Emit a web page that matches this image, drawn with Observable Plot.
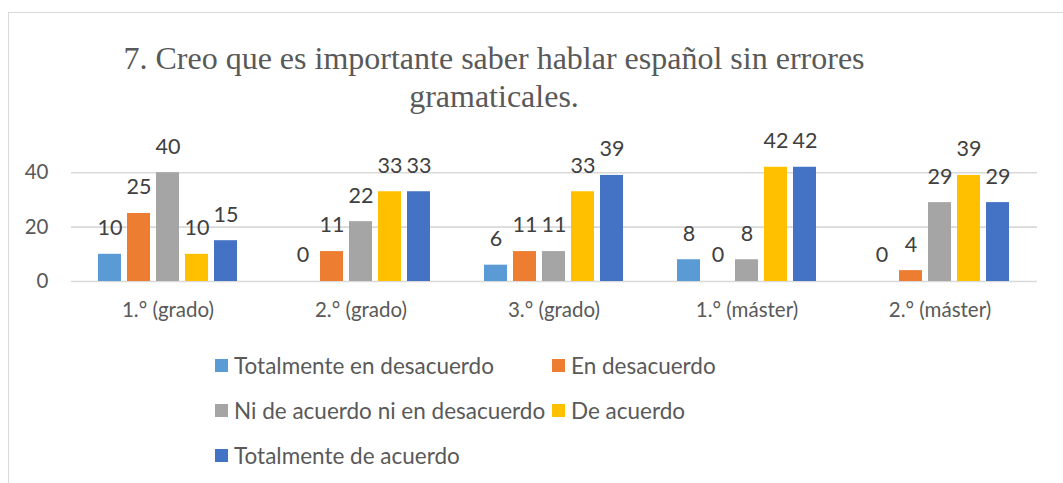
<!DOCTYPE html>
<html>
<head>
<meta charset="utf-8">
<script src="https://cdn.jsdelivr.net/npm/d3@7"></script>
<script src="https://cdn.jsdelivr.net/npm/@observablehq/plot@0.6"></script>
<style>
  html, body { margin: 0; padding: 0; background: #fff; }
  #wrap { position: relative; width: 1063px; height: 483px; overflow: hidden; background: #fff; }
  #frame { position: absolute; left: 8px; top: 12px; width: 1100px; height: 520px; border: 1px solid #d9d9d9; box-sizing: border-box; }
  #title { position: absolute; left: 0; top: 39px; width: 988px; text-align: center; font-family: "Liberation Serif", serif; font-size: 32px; line-height: 38px; color: #595959; }
  .layer { position: absolute; left: 0; top: 120px; }
  .leg { position: absolute; display: flex; align-items: center; font-family: Lato, sans-serif; font-size: 22.5px; color: #595959; height: 30px; white-space: nowrap; }
  .sw { width: 13px; height: 13px; margin-right: 6px; }
</style>
</head>
<body>
<div id="wrap">
  <div id="frame"></div>
  <div id="title">7. Creo que es importante saber hablar español sin errores<br>gramaticales.</div>
  <div id="bg" class="layer"></div>
  <div id="fg" class="layer"></div>
  <div id="legend"></div>
</div>
<script>
const categories = ["1.° (grado)", "2.° (grado)", "3.° (grado)", "1.° (máster)", "2.° (máster)"];
const series = ["Totalmente en desacuerdo", "En desacuerdo", "Ni de acuerdo ni en desacuerdo", "De acuerdo", "Totalmente de acuerdo"];
const colors = ["#5B9BD5", "#ED7D31", "#A5A5A5", "#FFC000", "#4472C4"];
const totalmenteEnDesacuerdo = [10, 0, 6, 8, 0];
const enDesacuerdo = [25, 11, 11, 0, 4];
const niDeAcuerdoNiEnDesacuerdo = [40, 22, 11, 8, 29];
const deAcuerdo = [10, 33, 33, 42, 39];
const totalmenteDeAcuerdo = [15, 33, 39, 42, 29];
const yTicks = [0, 20, 40];

const seriesValues = [totalmenteEnDesacuerdo, enDesacuerdo, niDeAcuerdoNiEnDesacuerdo, deAcuerdo, totalmenteDeAcuerdo];
const data = [];
categories.forEach((c, i) => series.forEach((s, j) => data.push({category: c, series: s, value: seriesValues[j][i]})));

const W = 1063, H = 212, ML = 71, MR = 26, MT = 25, MB = 51;
const yDomain = [0, 50];

const bg = Plot.plot({
  width: W, height: H, marginLeft: ML, marginRight: MR, marginTop: MT, marginBottom: MB,
  style: {fontFamily: "Lato, sans-serif", fontSize: "20px", color: "#595959", background: "transparent"},
  y: {domain: yDomain, label: null},
  marks: [
    Plot.ruleY(yTicks, {stroke: "#d9d9d9", strokeWidth: 1.6}),
    Plot.axisY(yTicks, {tickSize: 0, tickPadding: 23, label: null, fill: "#595959", fontSize: 20.5})
  ]
});
document.getElementById("bg").appendChild(bg);

const fg = Plot.plot({
  width: W, height: H, marginLeft: ML, marginRight: MR, marginTop: MT, marginBottom: MB,
  style: {fontFamily: "Lato, sans-serif", fontSize: "20px", color: "#595959", background: "transparent", overflow: "visible"},
  fx: {domain: categories, paddingInner: 0.206, paddingOuter: 0.103, label: null},
  x: {domain: series, padding: 0.2, axis: null},
  y: {domain: yDomain, axis: null},
  color: {domain: series, range: colors},
  marks: [
    Plot.axisFx({anchor: "bottom", tickSize: 0, tickPadding: 21, label: null, fill: "#595959", fontSize: 20.5}),
    Plot.barY(data, {fx: "category", x: "series", y: "value", fill: "series"}),
    Plot.text(data, {fx: "category", x: "series", y: "value", text: d => String(d.value), dy: -26, fill: "#404040", fontSize: 21.5})
  ]
});
document.getElementById("fg").appendChild(fg);

const legend = document.getElementById("legend");
const legPos = [[215, 365], [552, 365], [215, 410], [552, 410], [215, 455]];
series.forEach((s, i) => {
  const el = document.createElement("div");
  el.className = "leg";
  el.style.left = legPos[i][0] + "px";
  el.style.top = (legPos[i][1] - 15) + "px";
  const sw = document.createElement("div");
  sw.className = "sw";
  sw.style.background = colors[i];
  const tx = document.createElement("span");
  tx.textContent = s;
  el.appendChild(sw);
  el.appendChild(tx);
  legend.appendChild(el);
});
</script>
</body>
</html>
